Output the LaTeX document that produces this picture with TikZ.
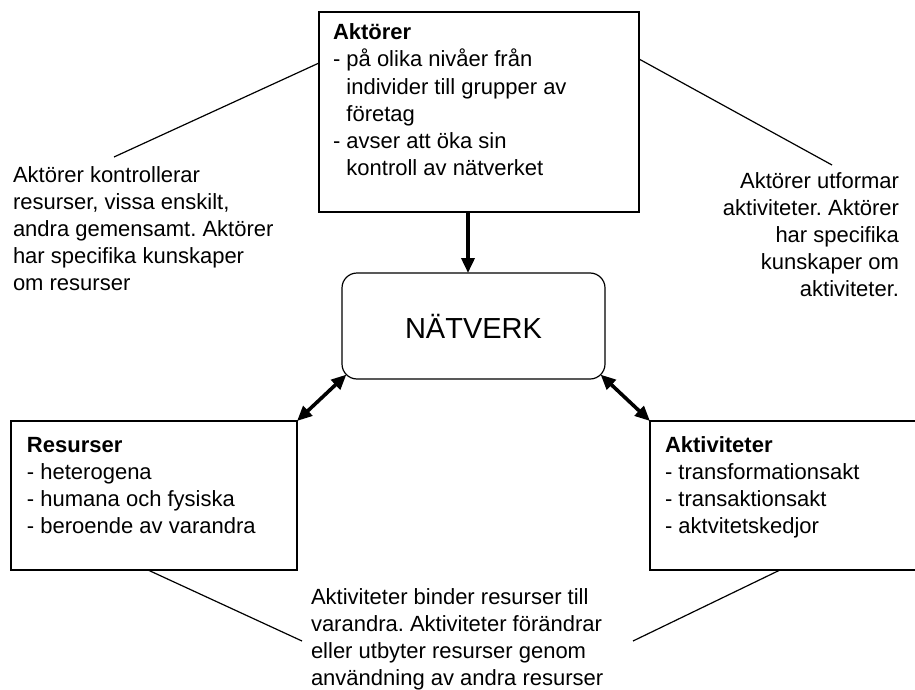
\documentclass[tikz,border=0pt]{standalone}
\usepackage{fontspec}
\setmainfont{Liberation Sans}
\usetikzlibrary{arrows.meta,calc}
\frenchspacing

\tikzset{
  box/.style={draw=black, line width=1.4pt, fill=white, inner sep=0pt, outer sep=0pt},
  netbox/.style={draw=black, line width=1.2pt, rounded corners=15pt, inner sep=0pt, outer sep=0pt,
                 minimum width=263pt, minimum height=106pt, font=\fontsize{29}{34}\selectfont},
  body/.style={inner sep=0pt, outer sep=0pt, font=\fontsize{22}{27}\selectfont},
  link/.style={line width=1.2pt},
  heavy/.style={line width=3.6pt, {Triangle[length=15pt,width=13pt]}-{Triangle[length=15pt,width=13pt]}},
  down/.style={line width=3.6pt, -{Triangle[length=15pt,width=13pt]}}
}
\newcommand{\dashind}{\hphantom{-\ }}

\begin{document}
\begin{tikzpicture}[x=1pt,y=-1pt]
  \useasboundingbox (0,0) rectangle (915,690);
  \clip (0,0) rectangle (915,690);

  % main boxes
  \node[box, minimum width=320pt, minimum height=200pt, anchor=north west] (akt) at (319,12) {};
  \node[box, minimum width=286pt, minimum height=149pt, anchor=north west] (res) at (11,421) {};
  \node[box, minimum width=290pt, minimum height=149pt, anchor=north west] (act) at (650,421) {};
  \node[netbox] (net) at (473.5,326) {NÄTVERK};

  % box contents (anchored at the baseline of the last line)
  \node[body, anchor=base west, align=left] (akttext) at (333,175)
    {\textbf{Aktörer}\\
     - på olika nivåer från\\
     \dashind individer till grupper av\\
     \dashind företag\\
     - avser att öka sin\\
     \dashind kontroll av nätverket};
  \node[body, anchor=base west, align=left] (restext) at (27,533)
    {\textbf{Resurser}\\
     - heterogena\\
     - humana och fysiska\\
     - beroende av varandra};
  \node[body, anchor=base west, align=left] (acttext) at (665,533)
    {\textbf{Aktiviteter}\\
     - transformationsakt\\
     - transaktionsakt\\
     - aktvitetskedjor};

  % free-standing comments
  \node[body, anchor=base west, align=left] (lefttext) at (13,290)
    {Aktörer kontrollerar\\
     resurser, vissa enskilt,\\
     andra gemensamt. Aktörer\\
     har specifika kunskaper\\
     om resurser};
  \node[body, anchor=base east, align=right] (righttext) at (899,296)
    {Aktörer utformar\\
     aktiviteter. Aktörer\\
     har specifika\\
     kunskaper om\\
     aktiviteter.};
  \node[body, anchor=base west, align=left] (bottomtext) at (311,685)
    {Aktiviteter binder resurser till\\
     varandra. Aktiviteter förändrar\\
     eller utbyter resurser genom\\
     användning av andra resurser};

  % free ends of the comment lines
  \coordinate (c1) at (114,157);
  \coordinate (c2) at (832,165);
  \coordinate (c3) at (302,641);
  \coordinate (c4) at (633,641);
  \coordinate (ax) at (468,0);

  % comment lines
  \draw[link] (akt.west |- 0,63) -- (c1);
  \draw[link] (akt.east |- 0,59) -- (c2);
  \draw[link] (res.south -| 148,0) -- (c3);
  \draw[link] (act.south -| 780,0) -- (c4);

  % arrows
  \draw[down] (akt.south -| ax) -- (net.north -| ax);
  \draw[heavy] (res.north east) -- ($(net.south west)+(4.4,-4.4)$);
  \draw[heavy] (act.north west) -- ($(net.south east)+(-4.4,-4.4)$);
\end{tikzpicture}
\end{document}
